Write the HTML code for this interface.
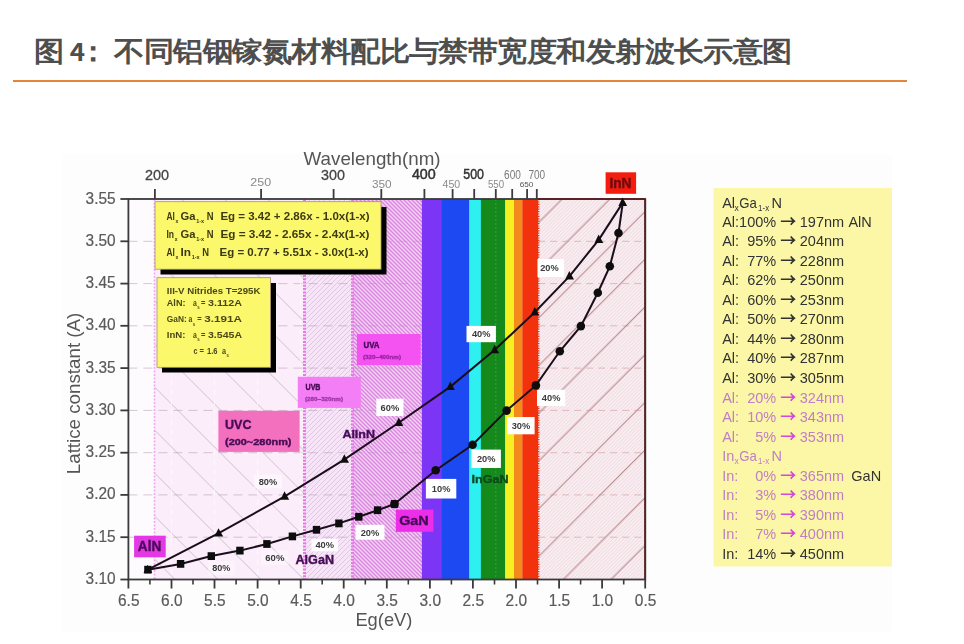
<!DOCTYPE html>
<html><head><meta charset="utf-8"><title>图4</title><style>
html,body{margin:0;padding:0;background:#fff;}
body{width:964px;height:644px;overflow:hidden;}
svg{display:block;}
text{font-family:"Liberation Sans", Arial, sans-serif;}
.ty{font-size:16.5px;fill:#5a5a5a;stroke:#5a5a5a;stroke-width:0.2px;}
.tx{font-size:16px;fill:#5a5a5a;stroke:#5a5a5a;stroke-width:0.2px;}
.tb{font-size:15px;fill:#444;stroke:#444;stroke-width:0.3px;}
.tbb{font-size:15px;fill:#333;stroke:#333;stroke-width:0.5px;}
.ts{font-size:10.5px;fill:#8a8a8a;}
.tm{font-size:12px;fill:#7a7a7a;}
.tt{font-size:7px;fill:#555;}
.axl{font-size:19px;fill:#555;}
.bl{font-weight:bold;fill:#450a55;stroke:#450a55;stroke-width:0.35px;}
.pc{font-weight:bold;font-size:8.5px;fill:#3a3a3a;}
.eq{font-weight:bold;font-size:11.5px;fill:#3c3a12;}
.eqs{font-weight:bold;font-size:6px;fill:#3c3a12;}
.ni{font-weight:bold;font-size:9.5px;fill:#4a4818;}
.nis{font-weight:bold;font-size:5px;fill:#4a4818;}
.lg{font-size:14.5px;}
.lgs{font-size:8.5px;}
.k{fill:#333;}
.p{fill:#bf7fc3;}
.ar{fill:#333;font-family:"Noto Sans CJK SC",sans-serif;font-weight:bold;font-size:16px;}
.arp{fill:#d548d8;font-family:"Noto Sans CJK SC",sans-serif;font-weight:bold;font-size:16px;}
</style></head>
<body><svg width="964" height="644" viewBox="0 0 964 644">
<defs>
<filter id="soft" x="0" y="0" width="100%" height="100%" filterUnits="userSpaceOnUse"><feGaussianBlur stdDeviation="0.45"/></filter>
<pattern id="hUVC" patternUnits="userSpaceOnUse" width="43" height="43" patternTransform="translate(25.5 0)">
 <path d="M-2,-2 L45,45 M-2,41 L2,45 M41,-2 L45,2" stroke="#8a7a8a" stroke-opacity="0.5" stroke-width="0.8"/>
</pattern>
<pattern id="hUVB" patternUnits="userSpaceOnUse" width="5" height="5">
 <path d="M-1,6 L6,-1 M-1,1 L1,-1 M4,6 L6,4" stroke="#c8b0d8" stroke-opacity="0.6" stroke-width="0.9"/>
</pattern>
<pattern id="hUVA" patternUnits="userSpaceOnUse" width="4" height="4">
 <path d="M-1,-1 L5,5 M-1,3 L1,5 M3,-1 L5,1" stroke="#cf7ad6" stroke-opacity="0.85" stroke-width="1.3"/>
</pattern>
<pattern id="hIR" patternUnits="userSpaceOnUse" width="3.6" height="3.6">
 <path d="M-1,4.6 L4.6,-1 M-1,1 L1,-1 M2.6,4.6 L4.6,2.6" stroke="#e6bccb" stroke-opacity="0.6" stroke-width="0.8"/>
</pattern>
<pattern id="hIR2" patternUnits="userSpaceOnUse" width="47.7" height="47.7" patternTransform="translate(-2 0)">
 <path d="M-2,49.7 L49.7,-2 M-2,2 L2,-2 M45.7,49.7 L49.7,45.7" stroke="#a06060" stroke-opacity="0.75" stroke-width="1"/>
</pattern>
</defs>
<text transform="scale(1.08 1)" x="31.57 64.63 72.22 106.02 133.29 160.56 187.82 215.09 242.36 269.63 296.90 324.17 351.44 378.70 405.97 433.24 460.51 487.78 515.05 542.31 569.58 596.85 624.12 651.39 678.66 705.93" y="61" font-family="Liberation Sans, Noto Sans CJK SC, sans-serif" font-weight="bold" font-size="28" fill="#4e4e4e">图<tspan font-size="24" font-family="Noto Sans CJK SC, sans-serif">4</tspan>：不同铝铟镓氮材料配比与禁带宽度和发射波长示意图</text>
<rect x="13" y="80" width="894" height="2" fill="#e4873c"/>
<g filter="url(#soft)">
<rect x="61.7" y="154" width="830" height="477.8" fill="#fdfdfd"/>
<rect x="128.4" y="199.0" width="26.099999999999994" height="380.5" fill="#fefbfe"/>
<rect x="154.5" y="199.0" width="150.0" height="380.5" fill="#fbedfa"/>
<rect x="154.5" y="199.0" width="150.0" height="380.5" fill="url(#hUVC)"/>
<rect x="304.5" y="199.0" width="48.0" height="380.5" fill="#f7e4f7"/>
<rect x="304.5" y="199.0" width="48.0" height="380.5" fill="url(#hUVB)"/>
<rect x="352.5" y="199.0" width="69.30000000000001" height="380.5" fill="#f6cef6"/>
<rect x="352.5" y="199.0" width="69.30000000000001" height="380.5" fill="url(#hUVA)"/>
<rect x="421.8" y="199.0" width="20.3" height="380.5" fill="#7d35f5"/>
<rect x="441.8" y="199.0" width="27.8" height="380.5" fill="#1e48f2"/>
<rect x="469.3" y="199.0" width="11.9" height="380.5" fill="#2ff0f0"/>
<rect x="480.9" y="199.0" width="24.6" height="380.5" fill="#15891c"/>
<rect x="505.2" y="199.0" width="9.1" height="380.5" fill="#f6f020"/>
<rect x="514.0" y="199.0" width="8.7" height="380.5" fill="#f58a1c"/>
<rect x="522.4" y="199.0" width="16.1" height="380.5" fill="#f2300f"/>
<rect x="538.2" y="199.0" width="107.0" height="380.5" fill="#f8eef2"/>
<rect x="538.2" y="199.0" width="107.0" height="380.5" fill="url(#hIR)"/>
<rect x="538.2" y="199.0" width="107.0" height="380.5" fill="url(#hIR2)"/>
<line x1="495.8" y1="199.0" x2="495.8" y2="579.5" stroke="#ffffff" stroke-opacity="0.18" stroke-width="1" stroke-dasharray="2 2"/>
<line x1="154.5" y1="199.0" x2="154.5" y2="579.5" stroke="#f0a8f0" stroke-width="1.6" stroke-dasharray="2 1.5"/>
<line x1="304.5" y1="199.0" x2="304.5" y2="579.5" stroke="#e87ae8" stroke-width="3" stroke-dasharray="2 1.3"/>
<line x1="352.5" y1="199.0" x2="352.5" y2="579.5" stroke="#e87ae8" stroke-width="3" stroke-dasharray="2 1.3"/>
<line x1="538.7" y1="199.0" x2="538.7" y2="579.5" stroke="#f2300f" stroke-width="1.4" stroke-dasharray="1.2 1.2"/>
<line x1="128.4" y1="537.2" x2="421.8" y2="537.2" stroke="#b49ab4" stroke-opacity="0.55" stroke-width="1" stroke-dasharray="9 6"/>
<line x1="538.2" y1="537.2" x2="645.2" y2="537.2" stroke="#c08080" stroke-opacity="0.45" stroke-width="1" stroke-dasharray="7 5"/>
<line x1="128.4" y1="494.9" x2="421.8" y2="494.9" stroke="#b49ab4" stroke-opacity="0.55" stroke-width="1" stroke-dasharray="9 6"/>
<line x1="538.2" y1="494.9" x2="645.2" y2="494.9" stroke="#c08080" stroke-opacity="0.45" stroke-width="1" stroke-dasharray="7 5"/>
<line x1="128.4" y1="452.7" x2="421.8" y2="452.7" stroke="#b49ab4" stroke-opacity="0.55" stroke-width="1" stroke-dasharray="9 6"/>
<line x1="538.2" y1="452.7" x2="645.2" y2="452.7" stroke="#c08080" stroke-opacity="0.45" stroke-width="1" stroke-dasharray="7 5"/>
<line x1="128.4" y1="410.4" x2="421.8" y2="410.4" stroke="#b49ab4" stroke-opacity="0.55" stroke-width="1" stroke-dasharray="9 6"/>
<line x1="538.2" y1="410.4" x2="645.2" y2="410.4" stroke="#c08080" stroke-opacity="0.45" stroke-width="1" stroke-dasharray="7 5"/>
<line x1="128.4" y1="368.1" x2="421.8" y2="368.1" stroke="#b49ab4" stroke-opacity="0.55" stroke-width="1" stroke-dasharray="9 6"/>
<line x1="538.2" y1="368.1" x2="645.2" y2="368.1" stroke="#c08080" stroke-opacity="0.45" stroke-width="1" stroke-dasharray="7 5"/>
<line x1="128.4" y1="325.8" x2="421.8" y2="325.8" stroke="#b49ab4" stroke-opacity="0.55" stroke-width="1" stroke-dasharray="9 6"/>
<line x1="538.2" y1="325.8" x2="645.2" y2="325.8" stroke="#c08080" stroke-opacity="0.45" stroke-width="1" stroke-dasharray="7 5"/>
<line x1="128.4" y1="283.6" x2="421.8" y2="283.6" stroke="#b49ab4" stroke-opacity="0.55" stroke-width="1" stroke-dasharray="9 6"/>
<line x1="538.2" y1="283.6" x2="645.2" y2="283.6" stroke="#c08080" stroke-opacity="0.45" stroke-width="1" stroke-dasharray="7 5"/>
<line x1="128.4" y1="241.3" x2="421.8" y2="241.3" stroke="#b49ab4" stroke-opacity="0.55" stroke-width="1" stroke-dasharray="9 6"/>
<line x1="538.2" y1="241.3" x2="645.2" y2="241.3" stroke="#c08080" stroke-opacity="0.45" stroke-width="1" stroke-dasharray="7 5"/>
<line x1="171.5" y1="199.0" x2="171.5" y2="579.5" stroke="#ffffff" stroke-opacity="0.6" stroke-width="1.2" stroke-dasharray="6 4"/>
<line x1="214.5" y1="199.0" x2="214.5" y2="579.5" stroke="#ffffff" stroke-opacity="0.6" stroke-width="1.2" stroke-dasharray="6 4"/>
<line x1="257.6" y1="199.0" x2="257.6" y2="579.5" stroke="#ffffff" stroke-opacity="0.6" stroke-width="1.2" stroke-dasharray="6 4"/>
<line x1="300.7" y1="199.0" x2="300.7" y2="579.5" stroke="#ffffff" stroke-opacity="0.6" stroke-width="1.2" stroke-dasharray="6 4"/>
<rect x="128.4" y="199.0" width="516.8000000000001" height="380.5" fill="none" stroke="#3a3a3a" stroke-width="1.8"/>
<line x1="538.2" y1="199.0" x2="645.2" y2="199.0" stroke="#5a2020" stroke-width="1.8"/>
<line x1="645.2" y1="199.0" x2="645.2" y2="579.5" stroke="#5a2020" stroke-width="1.8"/>
<line x1="120.4" y1="579.5" x2="128.4" y2="579.5" stroke="#3a3a3a" stroke-width="1.8"/>
<text x="85.6" y="584.0" class="ty" textLength="30" lengthAdjust="spacingAndGlyphs">3.10</text>
<line x1="120.4" y1="537.2" x2="128.4" y2="537.2" stroke="#3a3a3a" stroke-width="1.8"/>
<text x="85.6" y="541.7" class="ty" textLength="30" lengthAdjust="spacingAndGlyphs">3.15</text>
<line x1="120.4" y1="494.9" x2="128.4" y2="494.9" stroke="#3a3a3a" stroke-width="1.8"/>
<text x="85.6" y="499.4" class="ty" textLength="30" lengthAdjust="spacingAndGlyphs">3.20</text>
<line x1="120.4" y1="452.7" x2="128.4" y2="452.7" stroke="#3a3a3a" stroke-width="1.8"/>
<text x="85.6" y="457.2" class="ty" textLength="30" lengthAdjust="spacingAndGlyphs">3.25</text>
<line x1="120.4" y1="410.4" x2="128.4" y2="410.4" stroke="#3a3a3a" stroke-width="1.8"/>
<text x="85.6" y="414.9" class="ty" textLength="30" lengthAdjust="spacingAndGlyphs">3.30</text>
<line x1="120.4" y1="368.1" x2="128.4" y2="368.1" stroke="#3a3a3a" stroke-width="1.8"/>
<text x="85.6" y="372.6" class="ty" textLength="30" lengthAdjust="spacingAndGlyphs">3.35</text>
<line x1="120.4" y1="325.8" x2="128.4" y2="325.8" stroke="#3a3a3a" stroke-width="1.8"/>
<text x="85.6" y="330.3" class="ty" textLength="30" lengthAdjust="spacingAndGlyphs">3.40</text>
<line x1="120.4" y1="283.6" x2="128.4" y2="283.6" stroke="#3a3a3a" stroke-width="1.8"/>
<text x="85.6" y="288.1" class="ty" textLength="30" lengthAdjust="spacingAndGlyphs">3.45</text>
<line x1="120.4" y1="241.3" x2="128.4" y2="241.3" stroke="#3a3a3a" stroke-width="1.8"/>
<text x="85.6" y="245.8" class="ty" textLength="30" lengthAdjust="spacingAndGlyphs">3.50</text>
<line x1="120.4" y1="199.0" x2="128.4" y2="199.0" stroke="#3a3a3a" stroke-width="1.8"/>
<text x="85.6" y="203.5" class="ty" textLength="30" lengthAdjust="spacingAndGlyphs">3.55</text>
<line x1="128.4" y1="579.5" x2="128.4" y2="588.5" stroke="#3a3a3a" stroke-width="1.8"/>
<text x="118.0" y="606" class="tx" textLength="21.5" lengthAdjust="spacingAndGlyphs">6.5</text>
<line x1="149.9" y1="579.5" x2="149.9" y2="584.5" stroke="#3a3a3a" stroke-width="1.6"/>
<line x1="171.5" y1="579.5" x2="171.5" y2="588.5" stroke="#3a3a3a" stroke-width="1.8"/>
<text x="161.1" y="606" class="tx" textLength="21.5" lengthAdjust="spacingAndGlyphs">6.0</text>
<line x1="193.0" y1="579.5" x2="193.0" y2="584.5" stroke="#3a3a3a" stroke-width="1.6"/>
<line x1="214.5" y1="579.5" x2="214.5" y2="588.5" stroke="#3a3a3a" stroke-width="1.8"/>
<text x="204.1" y="606" class="tx" textLength="21.5" lengthAdjust="spacingAndGlyphs">5.5</text>
<line x1="236.1" y1="579.5" x2="236.1" y2="584.5" stroke="#3a3a3a" stroke-width="1.6"/>
<line x1="257.6" y1="579.5" x2="257.6" y2="588.5" stroke="#3a3a3a" stroke-width="1.8"/>
<text x="247.2" y="606" class="tx" textLength="21.5" lengthAdjust="spacingAndGlyphs">5.0</text>
<line x1="279.1" y1="579.5" x2="279.1" y2="584.5" stroke="#3a3a3a" stroke-width="1.6"/>
<line x1="300.7" y1="579.5" x2="300.7" y2="588.5" stroke="#3a3a3a" stroke-width="1.8"/>
<text x="290.3" y="606" class="tx" textLength="21.5" lengthAdjust="spacingAndGlyphs">4.5</text>
<line x1="322.2" y1="579.5" x2="322.2" y2="584.5" stroke="#3a3a3a" stroke-width="1.6"/>
<line x1="343.7" y1="579.5" x2="343.7" y2="588.5" stroke="#3a3a3a" stroke-width="1.8"/>
<text x="333.3" y="606" class="tx" textLength="21.5" lengthAdjust="spacingAndGlyphs">4.0</text>
<line x1="365.3" y1="579.5" x2="365.3" y2="584.5" stroke="#3a3a3a" stroke-width="1.6"/>
<line x1="386.8" y1="579.5" x2="386.8" y2="588.5" stroke="#3a3a3a" stroke-width="1.8"/>
<text x="376.4" y="606" class="tx" textLength="21.5" lengthAdjust="spacingAndGlyphs">3.5</text>
<line x1="408.3" y1="579.5" x2="408.3" y2="584.5" stroke="#3a3a3a" stroke-width="1.6"/>
<line x1="429.9" y1="579.5" x2="429.9" y2="588.5" stroke="#3a3a3a" stroke-width="1.8"/>
<text x="419.5" y="606" class="tx" textLength="21.5" lengthAdjust="spacingAndGlyphs">3.0</text>
<line x1="451.4" y1="579.5" x2="451.4" y2="584.5" stroke="#3a3a3a" stroke-width="1.6"/>
<line x1="472.9" y1="579.5" x2="472.9" y2="588.5" stroke="#3a3a3a" stroke-width="1.8"/>
<text x="462.5" y="606" class="tx" textLength="21.5" lengthAdjust="spacingAndGlyphs">2.5</text>
<line x1="494.5" y1="579.5" x2="494.5" y2="584.5" stroke="#3a3a3a" stroke-width="1.6"/>
<line x1="516.0" y1="579.5" x2="516.0" y2="588.5" stroke="#3a3a3a" stroke-width="1.8"/>
<text x="505.6" y="606" class="tx" textLength="21.5" lengthAdjust="spacingAndGlyphs">2.0</text>
<line x1="537.5" y1="579.5" x2="537.5" y2="584.5" stroke="#3a3a3a" stroke-width="1.6"/>
<line x1="559.1" y1="579.5" x2="559.1" y2="588.5" stroke="#3a3a3a" stroke-width="1.8"/>
<text x="548.7" y="606" class="tx" textLength="21.5" lengthAdjust="spacingAndGlyphs">1.5</text>
<line x1="580.6" y1="579.5" x2="580.6" y2="584.5" stroke="#3a3a3a" stroke-width="1.6"/>
<line x1="602.1" y1="579.5" x2="602.1" y2="588.5" stroke="#3a3a3a" stroke-width="1.8"/>
<text x="591.7" y="606" class="tx" textLength="21.5" lengthAdjust="spacingAndGlyphs">1.0</text>
<line x1="623.7" y1="579.5" x2="623.7" y2="584.5" stroke="#3a3a3a" stroke-width="1.6"/>
<line x1="645.2" y1="579.5" x2="645.2" y2="588.5" stroke="#3a3a3a" stroke-width="1.8"/>
<text x="634.8" y="606" class="tx" textLength="21.5" lengthAdjust="spacingAndGlyphs">0.5</text>
<line x1="154.9" y1="199.0" x2="154.9" y2="189.0" stroke="#3a3a3a" stroke-width="1.8"/>
<line x1="261.1" y1="199.0" x2="261.1" y2="189.0" stroke="#3a3a3a" stroke-width="1.8"/>
<line x1="333.6" y1="199.0" x2="333.6" y2="189.0" stroke="#3a3a3a" stroke-width="1.8"/>
<line x1="381.3" y1="199.0" x2="381.3" y2="189.0" stroke="#3a3a3a" stroke-width="1.8"/>
<line x1="424.4" y1="199.0" x2="424.4" y2="189.0" stroke="#3a3a3a" stroke-width="1.8"/>
<line x1="452.6" y1="199.0" x2="452.6" y2="189.0" stroke="#3a3a3a" stroke-width="1.8"/>
<line x1="474.2" y1="199.0" x2="474.2" y2="189.0" stroke="#3a3a3a" stroke-width="1.8"/>
<line x1="495.8" y1="199.0" x2="495.8" y2="189.0" stroke="#3a3a3a" stroke-width="1.8"/>
<line x1="512.2" y1="199.0" x2="512.2" y2="189.0" stroke="#3a3a3a" stroke-width="1.8"/>
<line x1="527.1" y1="199.0" x2="527.1" y2="189.0" stroke="#3a3a3a" stroke-width="1.8"/>
<line x1="536.8" y1="199.0" x2="536.8" y2="189.0" stroke="#3a3a3a" stroke-width="1.8"/>
<text x="144.9" y="179.8" class="tb" textLength="24.1" lengthAdjust="spacingAndGlyphs">200</text>
<text x="321.1" y="180.3" class="tb" textLength="23.9" lengthAdjust="spacingAndGlyphs">300</text>
<text x="411.9" y="179.1" class="tbb" textLength="23.9" lengthAdjust="spacingAndGlyphs">400</text>
<text x="463.3" y="178.6" class="tbb" textLength="20.7" lengthAdjust="spacingAndGlyphs">500</text>
<text x="250.3" y="186.2" class="ts" textLength="20.8" lengthAdjust="spacingAndGlyphs">250</text>
<text x="372" y="188.1" class="ts" textLength="19.7" lengthAdjust="spacingAndGlyphs">350</text>
<text x="442.5" y="187.6" class="ts" textLength="17.7" lengthAdjust="spacingAndGlyphs">450</text>
<text x="487.9" y="188.4" class="ts" textLength="16.2" lengthAdjust="spacingAndGlyphs">550</text>
<text x="504.1" y="179.3" class="tm" textLength="16.8" lengthAdjust="spacingAndGlyphs">600</text>
<text x="528.4" y="179.3" class="tm" textLength="16.8" lengthAdjust="spacingAndGlyphs">700</text>
<text x="519.7" y="187.4" class="tt" textLength="13.7" lengthAdjust="spacingAndGlyphs">650</text>
<text x="303.6" y="165.3" class="axl" font-size="20" textLength="137" lengthAdjust="spacingAndGlyphs">Wavelength(nm)</text>
<text x="355.4" y="626.3" class="axl" textLength="57" lengthAdjust="spacingAndGlyphs">Eg(eV)</text>
<text transform="translate(80.4 474.2) rotate(-90)" class="axl" font-size="17.5" textLength="161.5" lengthAdjust="spacingAndGlyphs">Lattice constant (A)</text>
<rect x="218.4" y="410.8" width="81.2" height="41.1" fill="#f26fbd" fill-opacity="1"/>
<text x="225" y="428.8" class="bl" font-size="12.5" textLength="26.5" lengthAdjust="spacingAndGlyphs">UVC</text>
<text x="225" y="445.2" class="bl" font-size="9" textLength="66.5" lengthAdjust="spacingAndGlyphs">(200~280nm)</text>
<rect x="297.8" y="376.8" width="63.0" height="31.1" fill="#f37ef5" fill-opacity="1"/>
<text x="305.5" y="389.5" class="bl" font-size="8.5" textLength="15" lengthAdjust="spacingAndGlyphs">UVB</text>
<text x="305" y="401" class="bl" font-size="5.5" textLength="38" lengthAdjust="spacingAndGlyphs" style="fill:#a03aa8;stroke:#a03aa8">(280~320nm)</text>
<rect x="356.9" y="334" width="63.8" height="31.1" fill="#f452f2" fill-opacity="1"/>
<text x="363.5" y="347.5" class="bl" font-size="8.5" textLength="16" lengthAdjust="spacingAndGlyphs">UVA</text>
<text x="363" y="358.5" class="bl" font-size="5.5" textLength="38" lengthAdjust="spacingAndGlyphs" style="fill:#a024a8;stroke:#a024a8">(320~400nm)</text>
<rect x="134.1" y="535.7" width="31.6" height="21.6" fill="#e338e3" fill-opacity="1"/>
<text x="137.8" y="550.6" class="bl" font-size="14" textLength="23.5" lengthAdjust="spacingAndGlyphs">AlN</text>
<rect x="395.8" y="509.6" width="37.6" height="22.2" fill="#ec2de9" fill-opacity="1"/>
<text x="399.2" y="525" class="bl" font-size="13" textLength="29.5" lengthAdjust="spacingAndGlyphs">GaN</text>
<rect x="605.6" y="172.3" width="30.5" height="21.5" fill="#f41e0e" fill-opacity="1"/>
<text x="609.4" y="188" class="bl" font-size="14.5" textLength="22" lengthAdjust="spacingAndGlyphs" style="fill:#6a0a0a;stroke:#6a0a0a">InN</text>
<text x="295.5" y="564.3" class="bl" font-size="12" textLength="38.5" lengthAdjust="spacingAndGlyphs">AlGaN</text>
<text x="342.4" y="437.6" class="bl" font-size="11.5" textLength="32.6" lengthAdjust="spacingAndGlyphs">AlInN</text>
<text x="471.5" y="483" class="bl" font-size="10.5" textLength="37" lengthAdjust="spacingAndGlyphs" style="fill:#104a20;stroke:#104a20">InGaN</text>
<rect x="254" y="474.5" width="28.0" height="14.0" fill="#ffffff" fill-opacity="0.5"/>
<text x="258.7" y="484.7" class="pc" textLength="18.5" lengthAdjust="spacingAndGlyphs">80%</text>
<rect x="376.3" y="398.7" width="27.2" height="17.3" fill="#ffffff" fill-opacity="1"/>
<text x="380.6" y="410.6" class="pc" textLength="18.6" lengthAdjust="spacingAndGlyphs">60%</text>
<rect x="466.5" y="325.9" width="29.4" height="16.3" fill="#ffffff" fill-opacity="1"/>
<text x="471.9" y="337.2" class="pc" textLength="18.6" lengthAdjust="spacingAndGlyphs">40%</text>
<rect x="537.5" y="259" width="26.5" height="18.0" fill="#ffffff" fill-opacity="1"/>
<text x="540.2" y="271.2" class="pc" textLength="18.5" lengthAdjust="spacingAndGlyphs">20%</text>
<rect x="208" y="561" width="26.5" height="14.0" fill="#ffffff" fill-opacity="0.35"/>
<text x="212.2" y="571.2" class="pc" textLength="18.2" lengthAdjust="spacingAndGlyphs">80%</text>
<rect x="261" y="550.5" width="27.5" height="14.5" fill="#ffffff" fill-opacity="0.35"/>
<text x="265.3" y="561.0" class="pc" textLength="19.1" lengthAdjust="spacingAndGlyphs">60%</text>
<rect x="311.5" y="538.9" width="26.5" height="12.4" fill="#ffffff" fill-opacity="0.9"/>
<text x="315.4" y="548.3" class="pc" textLength="18.6" lengthAdjust="spacingAndGlyphs">40%</text>
<rect x="355.5" y="524.8" width="29.0" height="14.9" fill="#ffffff" fill-opacity="1"/>
<text x="360.7" y="535.5" class="pc" textLength="18.6" lengthAdjust="spacingAndGlyphs">20%</text>
<rect x="425.9" y="478.9" width="30.4" height="19.6" fill="#ffffff" fill-opacity="1"/>
<text x="431.8" y="491.9" class="pc" textLength="18.6" lengthAdjust="spacingAndGlyphs">10%</text>
<rect x="471.5" y="449.6" width="29.4" height="18.4" fill="#ffffff" fill-opacity="1"/>
<text x="476.9" y="462.0" class="pc" textLength="18.6" lengthAdjust="spacingAndGlyphs">20%</text>
<rect x="507.4" y="417" width="27.2" height="17.3" fill="#ffffff" fill-opacity="1"/>
<text x="511.7" y="428.8" class="pc" textLength="18.6" lengthAdjust="spacingAndGlyphs">30%</text>
<rect x="537" y="389.8" width="28.2" height="16.2" fill="#ffffff" fill-opacity="1"/>
<text x="541.8" y="401.1" class="pc" textLength="18.6" lengthAdjust="spacingAndGlyphs">40%</text>
<polyline points="147.9,569.7 180.6,563.9 211.3,556.1 239.9,550.6 266.9,544 292.4,536.4 316.5,529.8 338.9,523.4 358.8,516.8 377.6,510.2 394.5,504" fill="none" stroke="#1a0f1a" stroke-width="2"/>
<polyline points="394.5,504 435.7,470.2 472.6,444.8 506.6,410.6 535.9,385.4 559.8,351.3 580.9,326.1 597.8,292.7 609.8,266.3 618.5,233 622.8,202.6" fill="none" stroke="#1a0f1a" stroke-width="2"/>
<polyline points="147.9,569.7 218.8,533.2 284.8,496.3 344.6,459.3 399,422.5 450.5,386.6 494.8,349.8 535,312 569.6,276.1 598.9,239.6 622.8,202.6" fill="none" stroke="#1a0f1a" stroke-width="2"/>
<rect x="144.2" y="565.8" width="7.4" height="7.8" fill="#111"/>
<rect x="176.9" y="560.0" width="7.4" height="7.8" fill="#111"/>
<rect x="207.6" y="552.2" width="7.4" height="7.8" fill="#111"/>
<rect x="236.2" y="546.7" width="7.4" height="7.8" fill="#111"/>
<rect x="263.2" y="540.1" width="7.4" height="7.8" fill="#111"/>
<rect x="288.7" y="532.5" width="7.4" height="7.8" fill="#111"/>
<rect x="312.8" y="525.9" width="7.4" height="7.8" fill="#111"/>
<rect x="335.2" y="519.5" width="7.4" height="7.8" fill="#111"/>
<rect x="355.1" y="512.9" width="7.4" height="7.8" fill="#111"/>
<rect x="373.9" y="506.3" width="7.4" height="7.8" fill="#111"/>
<rect x="390.8" y="500.1" width="7.4" height="7.8" fill="#111"/>
<circle cx="394.5" cy="504" r="4.3" fill="#111"/>
<circle cx="435.7" cy="470.2" r="4.3" fill="#111"/>
<circle cx="472.6" cy="444.8" r="4.3" fill="#111"/>
<circle cx="506.6" cy="410.6" r="4.3" fill="#111"/>
<circle cx="535.9" cy="385.4" r="4.3" fill="#111"/>
<circle cx="559.8" cy="351.3" r="4.3" fill="#111"/>
<circle cx="580.9" cy="326.1" r="4.3" fill="#111"/>
<circle cx="597.8" cy="292.7" r="4.3" fill="#111"/>
<circle cx="609.8" cy="266.3" r="4.3" fill="#111"/>
<circle cx="618.5" cy="233" r="4.3" fill="#111"/>
<path d="M147.6,564.7 L152.3,573.1 L143.5,573.1Z" fill="#111"/>
<path d="M218.5,528.2 L223.2,536.6 L214.4,536.6Z" fill="#111"/>
<path d="M284.5,491.3 L289.2,499.7 L280.4,499.7Z" fill="#111"/>
<path d="M344.3,454.3 L349.0,462.7 L340.2,462.7Z" fill="#111"/>
<path d="M398.7,417.5 L403.4,425.9 L394.6,425.9Z" fill="#111"/>
<path d="M450.2,381.6 L454.9,390.0 L446.1,390.0Z" fill="#111"/>
<path d="M494.5,344.8 L499.2,353.2 L490.4,353.2Z" fill="#111"/>
<path d="M534.7,307.0 L539.4,315.4 L530.6,315.4Z" fill="#111"/>
<path d="M569.3,271.1 L574.0,279.5 L565.2,279.5Z" fill="#111"/>
<path d="M598.6,234.6 L603.3,243.0 L594.5,243.0Z" fill="#111"/>
<path d="M622.5,197.6 L627.2,206.0 L618.4,206.0Z" fill="#111"/>
<rect x="160.5" y="207" width="226" height="67.5" fill="#050505"/>
<rect x="155" y="201.7" width="226" height="67.5" fill="#fbf86c" stroke="#a89070" stroke-width="0.8"/>
<text x="166.5" y="219.7" class="eq" textLength="8.4" lengthAdjust="spacingAndGlyphs">Al</text>
<text x="175.6" y="222.9" class="eqs" textLength="2.8" lengthAdjust="spacingAndGlyphs">x</text>
<text x="180.5" y="219.7" class="eq" textLength="15.0" lengthAdjust="spacingAndGlyphs">Ga</text>
<text x="196.2" y="222.9" class="eqs" textLength="8.0" lengthAdjust="spacingAndGlyphs">1-x</text>
<text x="206.7" y="219.7" class="eq" textLength="6.8" lengthAdjust="spacingAndGlyphs">N</text>
<text x="220.4" y="219.7" class="eq" textLength="149.1" lengthAdjust="spacingAndGlyphs">Eg = 3.42 + 2.86x - 1.0x(1-x)</text>
<text x="166.5" y="237.8" class="eq" textLength="7.6" lengthAdjust="spacingAndGlyphs">In</text>
<text x="174.8" y="241.0" class="eqs" textLength="2.8" lengthAdjust="spacingAndGlyphs">x</text>
<text x="180.5" y="237.8" class="eq" textLength="15.0" lengthAdjust="spacingAndGlyphs">Ga</text>
<text x="196.2" y="241.0" class="eqs" textLength="8.0" lengthAdjust="spacingAndGlyphs">1-x</text>
<text x="206.7" y="237.8" class="eq" textLength="6.8" lengthAdjust="spacingAndGlyphs">N</text>
<text x="220.4" y="237.8" class="eq" textLength="149.1" lengthAdjust="spacingAndGlyphs">Eg = 3.42 -  2.65x - 2.4x(1-x)</text>
<text x="166.5" y="256.0" class="eq" textLength="8.4" lengthAdjust="spacingAndGlyphs">Al</text>
<text x="175.6" y="259.2" class="eqs" textLength="2.8" lengthAdjust="spacingAndGlyphs">x</text>
<text x="180.5" y="256.0" class="eq" textLength="10.5" lengthAdjust="spacingAndGlyphs">In</text>
<text x="191.7" y="259.2" class="eqs" textLength="8.0" lengthAdjust="spacingAndGlyphs">1-x</text>
<text x="202.2" y="256.0" class="eq" textLength="6.8" lengthAdjust="spacingAndGlyphs">N</text>
<text x="219.5" y="256.0" class="eq" textLength="149.0" lengthAdjust="spacingAndGlyphs">Eg = 0.77 + 5.51x - 3.0x(1-x)</text>
<rect x="162" y="283" width="114" height="89.5" fill="#050505"/>
<rect x="157" y="277.7" width="113.6" height="89.6" fill="#fbf86c" stroke="#a89070" stroke-width="0.8"/>
<text x="166.8" y="294.4" class="ni" textLength="93.6" lengthAdjust="spacingAndGlyphs">III-V Nitrides T=295K</text>
<text x="166.8" y="306.2" class="ni" textLength="18.7" lengthAdjust="spacingAndGlyphs">AlN:</text>
<text x="193.0" y="306.2" class="ni" textLength="3.8" lengthAdjust="spacingAndGlyphs">a</text>
<text x="197.2" y="309.4" class="nis" textLength="2.4" lengthAdjust="spacingAndGlyphs">s</text>
<text x="201.0" y="306.2" class="ni" textLength="4.4" lengthAdjust="spacingAndGlyphs">=</text>
<text x="208.0" y="306.2" class="ni" textLength="34.0" lengthAdjust="spacingAndGlyphs">3.112A</text>
<text x="166.8" y="322.4" class="ni" textLength="19.9" lengthAdjust="spacingAndGlyphs">GaN:</text>
<text x="188.6" y="322.4" class="ni" textLength="3.8" lengthAdjust="spacingAndGlyphs">a</text>
<text x="192.8" y="325.6" class="nis" textLength="2.4" lengthAdjust="spacingAndGlyphs">s</text>
<text x="197.3" y="322.4" class="ni" textLength="4.4" lengthAdjust="spacingAndGlyphs">=</text>
<text x="204.3" y="322.4" class="ni" textLength="37.7" lengthAdjust="spacingAndGlyphs">3.191A</text>
<text x="166.8" y="337.9" class="ni" textLength="18.7" lengthAdjust="spacingAndGlyphs">InN:</text>
<text x="193.0" y="337.9" class="ni" textLength="3.8" lengthAdjust="spacingAndGlyphs">a</text>
<text x="197.2" y="341.1" class="nis" textLength="2.4" lengthAdjust="spacingAndGlyphs">s</text>
<text x="201.0" y="337.9" class="ni" textLength="4.4" lengthAdjust="spacingAndGlyphs">=</text>
<text x="208.0" y="337.9" class="ni" textLength="34.0" lengthAdjust="spacingAndGlyphs">3.545A</text>
<text x="193.5" y="354.0" class="ni" textLength="4.0" lengthAdjust="spacingAndGlyphs">c</text>
<text x="199.5" y="354.0" class="ni" textLength="4.4" lengthAdjust="spacingAndGlyphs">=</text>
<text x="207.0" y="354.0" class="ni" textLength="10.5" lengthAdjust="spacingAndGlyphs">1.6</text>
<text x="222.0" y="354.0" class="ni" textLength="4.0" lengthAdjust="spacingAndGlyphs">a</text>
<text x="226.4" y="357.2" class="nis" textLength="2.4" lengthAdjust="spacingAndGlyphs">s</text>
<rect x="713.5" y="188" width="178.5" height="378.5" fill="#fbf7a7"/>
<text x="722.2" y="207.7" class="lg k">Al</text><text x="734.6" y="210.7" class="lgs k">x</text><text x="739.2" y="207.7" class="lg k" textLength="17.6" lengthAdjust="spacingAndGlyphs">Ga</text><text x="758.1" y="210.7" class="lgs k" textLength="11" lengthAdjust="spacingAndGlyphs">1-x</text><text x="771.4" y="207.7" class="lg k">N</text>
<text x="722.2" y="226.7" class="lg k">Al:</text>
<text x="776.2" y="226.7" class="lg k" text-anchor="end">100%</text>
<text x="780.2" y="226.7" class="ar">→</text>
<text x="799.8" y="226.7" class="lg k">197nm</text>
<text x="848.4" y="226.7" class="lg k">AlN</text>
<text x="722.2" y="246.2" class="lg k">Al:</text>
<text x="776.2" y="246.2" class="lg k" text-anchor="end">95%</text>
<text x="780.2" y="246.2" class="ar">→</text>
<text x="799.8" y="246.2" class="lg k">204nm</text>
<text x="722.2" y="265.8" class="lg k">Al:</text>
<text x="776.2" y="265.8" class="lg k" text-anchor="end">77%</text>
<text x="780.2" y="265.8" class="ar">→</text>
<text x="799.8" y="265.8" class="lg k">228nm</text>
<text x="722.2" y="285.3" class="lg k">Al:</text>
<text x="776.2" y="285.3" class="lg k" text-anchor="end">62%</text>
<text x="780.2" y="285.3" class="ar">→</text>
<text x="799.8" y="285.3" class="lg k">250nm</text>
<text x="722.2" y="304.8" class="lg k">Al:</text>
<text x="776.2" y="304.8" class="lg k" text-anchor="end">60%</text>
<text x="780.2" y="304.8" class="ar">→</text>
<text x="799.8" y="304.8" class="lg k">253nm</text>
<text x="722.2" y="324.4" class="lg k">Al:</text>
<text x="776.2" y="324.4" class="lg k" text-anchor="end">50%</text>
<text x="780.2" y="324.4" class="ar">→</text>
<text x="799.8" y="324.4" class="lg k">270nm</text>
<text x="722.2" y="343.9" class="lg k">Al:</text>
<text x="776.2" y="343.9" class="lg k" text-anchor="end">44%</text>
<text x="780.2" y="343.9" class="ar">→</text>
<text x="799.8" y="343.9" class="lg k">280nm</text>
<text x="722.2" y="363.4" class="lg k">Al:</text>
<text x="776.2" y="363.4" class="lg k" text-anchor="end">40%</text>
<text x="780.2" y="363.4" class="ar">→</text>
<text x="799.8" y="363.4" class="lg k">287nm</text>
<text x="722.2" y="382.9" class="lg k">Al:</text>
<text x="776.2" y="382.9" class="lg k" text-anchor="end">30%</text>
<text x="780.2" y="382.9" class="ar">→</text>
<text x="799.8" y="382.9" class="lg k">305nm</text>
<text x="722.2" y="402.5" class="lg p">Al:</text>
<text x="776.2" y="402.5" class="lg p" text-anchor="end">20%</text>
<text x="780.2" y="402.5" class="arp">→</text>
<text x="799.8" y="402.5" class="lg p">324nm</text>
<text x="722.2" y="422.0" class="lg p">Al:</text>
<text x="776.2" y="422.0" class="lg p" text-anchor="end">10%</text>
<text x="780.2" y="422.0" class="arp">→</text>
<text x="799.8" y="422.0" class="lg p">343nm</text>
<text x="722.2" y="441.5" class="lg p">Al:</text>
<text x="776.2" y="441.5" class="lg p" text-anchor="end">5%</text>
<text x="780.2" y="441.5" class="arp">→</text>
<text x="799.8" y="441.5" class="lg p">353nm</text>
<text x="722.2" y="461.06" class="lg p">In</text><text x="734.6" y="464.1" class="lgs p">x</text><text x="739.2" y="461.06" class="lg p" textLength="17.6" lengthAdjust="spacingAndGlyphs">Ga</text><text x="758.1" y="464.1" class="lgs p" textLength="11" lengthAdjust="spacingAndGlyphs">1-x</text><text x="771.4" y="461.06" class="lg p">N</text>
<text x="722.2" y="480.6" class="lg p">In:</text>
<text x="776.2" y="480.6" class="lg p" text-anchor="end">0%</text>
<text x="780.2" y="480.6" class="arp">→</text>
<text x="799.8" y="480.6" class="lg p">365nm</text>
<text x="851.3" y="480.6" class="lg k">GaN</text>
<text x="722.2" y="500.1" class="lg p">In:</text>
<text x="776.2" y="500.1" class="lg p" text-anchor="end">3%</text>
<text x="780.2" y="500.1" class="arp">→</text>
<text x="799.8" y="500.1" class="lg p">380nm</text>
<text x="722.2" y="519.7" class="lg p">In:</text>
<text x="776.2" y="519.7" class="lg p" text-anchor="end">5%</text>
<text x="780.2" y="519.7" class="arp">→</text>
<text x="799.8" y="519.7" class="lg p">390nm</text>
<text x="722.2" y="539.2" class="lg p">In:</text>
<text x="776.2" y="539.2" class="lg p" text-anchor="end">7%</text>
<text x="780.2" y="539.2" class="arp">→</text>
<text x="799.8" y="539.2" class="lg p">400nm</text>
<text x="722.2" y="558.7" class="lg k">In:</text>
<text x="776.2" y="558.7" class="lg k" text-anchor="end">14%</text>
<text x="780.2" y="558.7" class="ar">→</text>
<text x="799.8" y="558.7" class="lg k">450nm</text>
</g>
</svg></body></html>
